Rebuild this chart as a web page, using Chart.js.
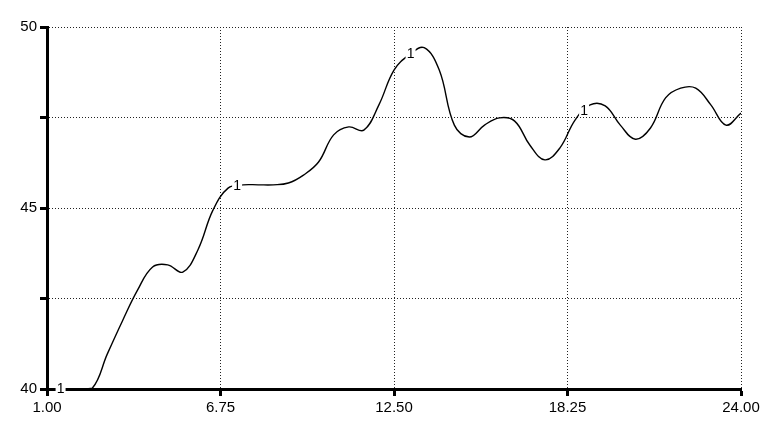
<!DOCTYPE html>
<html>
<head>
<meta charset="utf-8">
<script src="https://cdn.jsdelivr.net/npm/chart.js@4"></script>
<style>
  html, body { margin: 0; padding: 0; background: #fff; }
  #wrap { width: 763px; height: 439px; }
</style>
</head>
<body>
<div id="wrap"><canvas id="chart"></canvas></div>
<script>
// x positions and values
const xValues = [1, 1.5, 2, 2.5, 3, 3.5, 4, 4.5, 5, 5.5, 6, 6.5, 7, 7.5, 8, 8.5, 9, 9.5, 10, 10.5,
  11, 11.5, 12, 12.5, 13, 13.5, 14, 14.5, 15, 15.5, 16, 16.5, 17, 17.5, 18, 18.5, 19, 19.5,
  20, 20.5, 21, 21.5, 22, 22.5, 23, 23.5, 24];
const yValues = [40, 40, 40, 40.02, 40.97, 41.88, 42.73, 43.37, 43.43, 43.23, 43.84, 44.94, 45.55, 45.64, 45.64, 45.64, 45.69, 45.91, 46.27, 47.02,
  47.24, 47.15, 47.85, 48.81, 49.23, 49.43, 48.81, 47.29, 46.96, 47.29, 47.49, 47.4, 46.74, 46.33, 46.66, 47.43, 47.85, 47.82,
  47.29, 46.9, 47.21, 48.04, 48.31, 48.31, 47.85, 47.29, 47.62];

// tick values
const xTicks = [1, 6.75, 12.5, 18.25, 24];
const yTicks = [40, 42.5, 45, 47.5, 50];
const yLabelled = [40, 45, 50];

// where the "1" curve markers sit along x
const markerX = [1.45, 7.3, 13.05, 18.8];
const markerText = "1";

const points = xValues.map((x, i) => ({ x: x, y: yValues[i] }));

function yAt(x) {
  for (let i = 0; i < xValues.length - 1; i++) {
    if (x >= xValues[i] && x <= xValues[i + 1]) {
      const t = (x - xValues[i]) / (xValues[i + 1] - xValues[i]);
      return yValues[i] + t * (yValues[i + 1] - yValues[i]);
    }
  }
  return yValues[yValues.length - 1];
}

// draw the "1" labels on the curve
const curveLabels = {
  id: "curveLabels",
  afterDatasetsDraw(chart) {
    const ctx = chart.ctx;
    const xs = chart.scales.x, ys = chart.scales.y;
    ctx.save();
    ctx.font = "14px 'Liberation Sans', Arial, sans-serif";
    ctx.textAlign = "center";
    ctx.textBaseline = "middle";
    markerX.forEach(mx => {
      const px = xs.getPixelForValue(mx);
      const py = ys.getPixelForValue(yAt(mx));
      ctx.fillStyle = "#fff";
      ctx.fillRect(px - 5, py - 7, 10, 13);
      ctx.fillStyle = "#000";
      ctx.fillText(markerText, px, py);
    });
    ctx.restore();
  }
};

const gridStyle = {
  color: "#222",
  lineWidth: 1,
  drawTicks: true,
  tickLength: 7,
  tickWidth: 3,
  tickColor: "#000"
};

const tickFont = { family: "'Liberation Sans', Arial, sans-serif", size: 15 };

new Chart(document.getElementById("chart"), {
  type: "line",
  data: {
    datasets: [{
      data: points,
      borderColor: "#000",
      borderWidth: 1.4,
      pointRadius: 0,
      tension: 0.4,
      fill: false
    }]
  },
  options: {
    responsive: true,
    maintainAspectRatio: false,
    animation: false,
    layout: { padding: { left: 0, top: 27, right: 22, bottom: 0 } },
    plugins: {
      legend: { display: false },
      tooltip: { enabled: false }
    },
    scales: {
      x: {
        type: "linear",
        min: 1,
        max: 24,
        afterBuildTicks: scale => { scale.ticks = xTicks.map(v => ({ value: v })); },
        afterFit: scale => { scale.height = 50; },
        grid: gridStyle,
        border: { display: true, color: "#000", width: 3, dash: [1, 2] },
        ticks: {
          color: "#000",
          padding: 3,
          maxRotation: 0,
          font: tickFont,
          callback: v => v.toFixed(2)
        }
      },
      y: {
        min: 40,
        max: 50,
        afterBuildTicks: scale => { scale.ticks = yTicks.map(v => ({ value: v })); },
        afterFit: scale => { scale.width = 47; },
        grid: gridStyle,
        border: { display: true, color: "#000", width: 3, dash: [1, 2] },
        ticks: {
          color: "#000",
          padding: 3,
          font: tickFont,
          callback: v => yLabelled.includes(v) ? String(v) : ""
        }
      }
    }
  },
  plugins: [curveLabels]
});
</script>
</body>
</html>
